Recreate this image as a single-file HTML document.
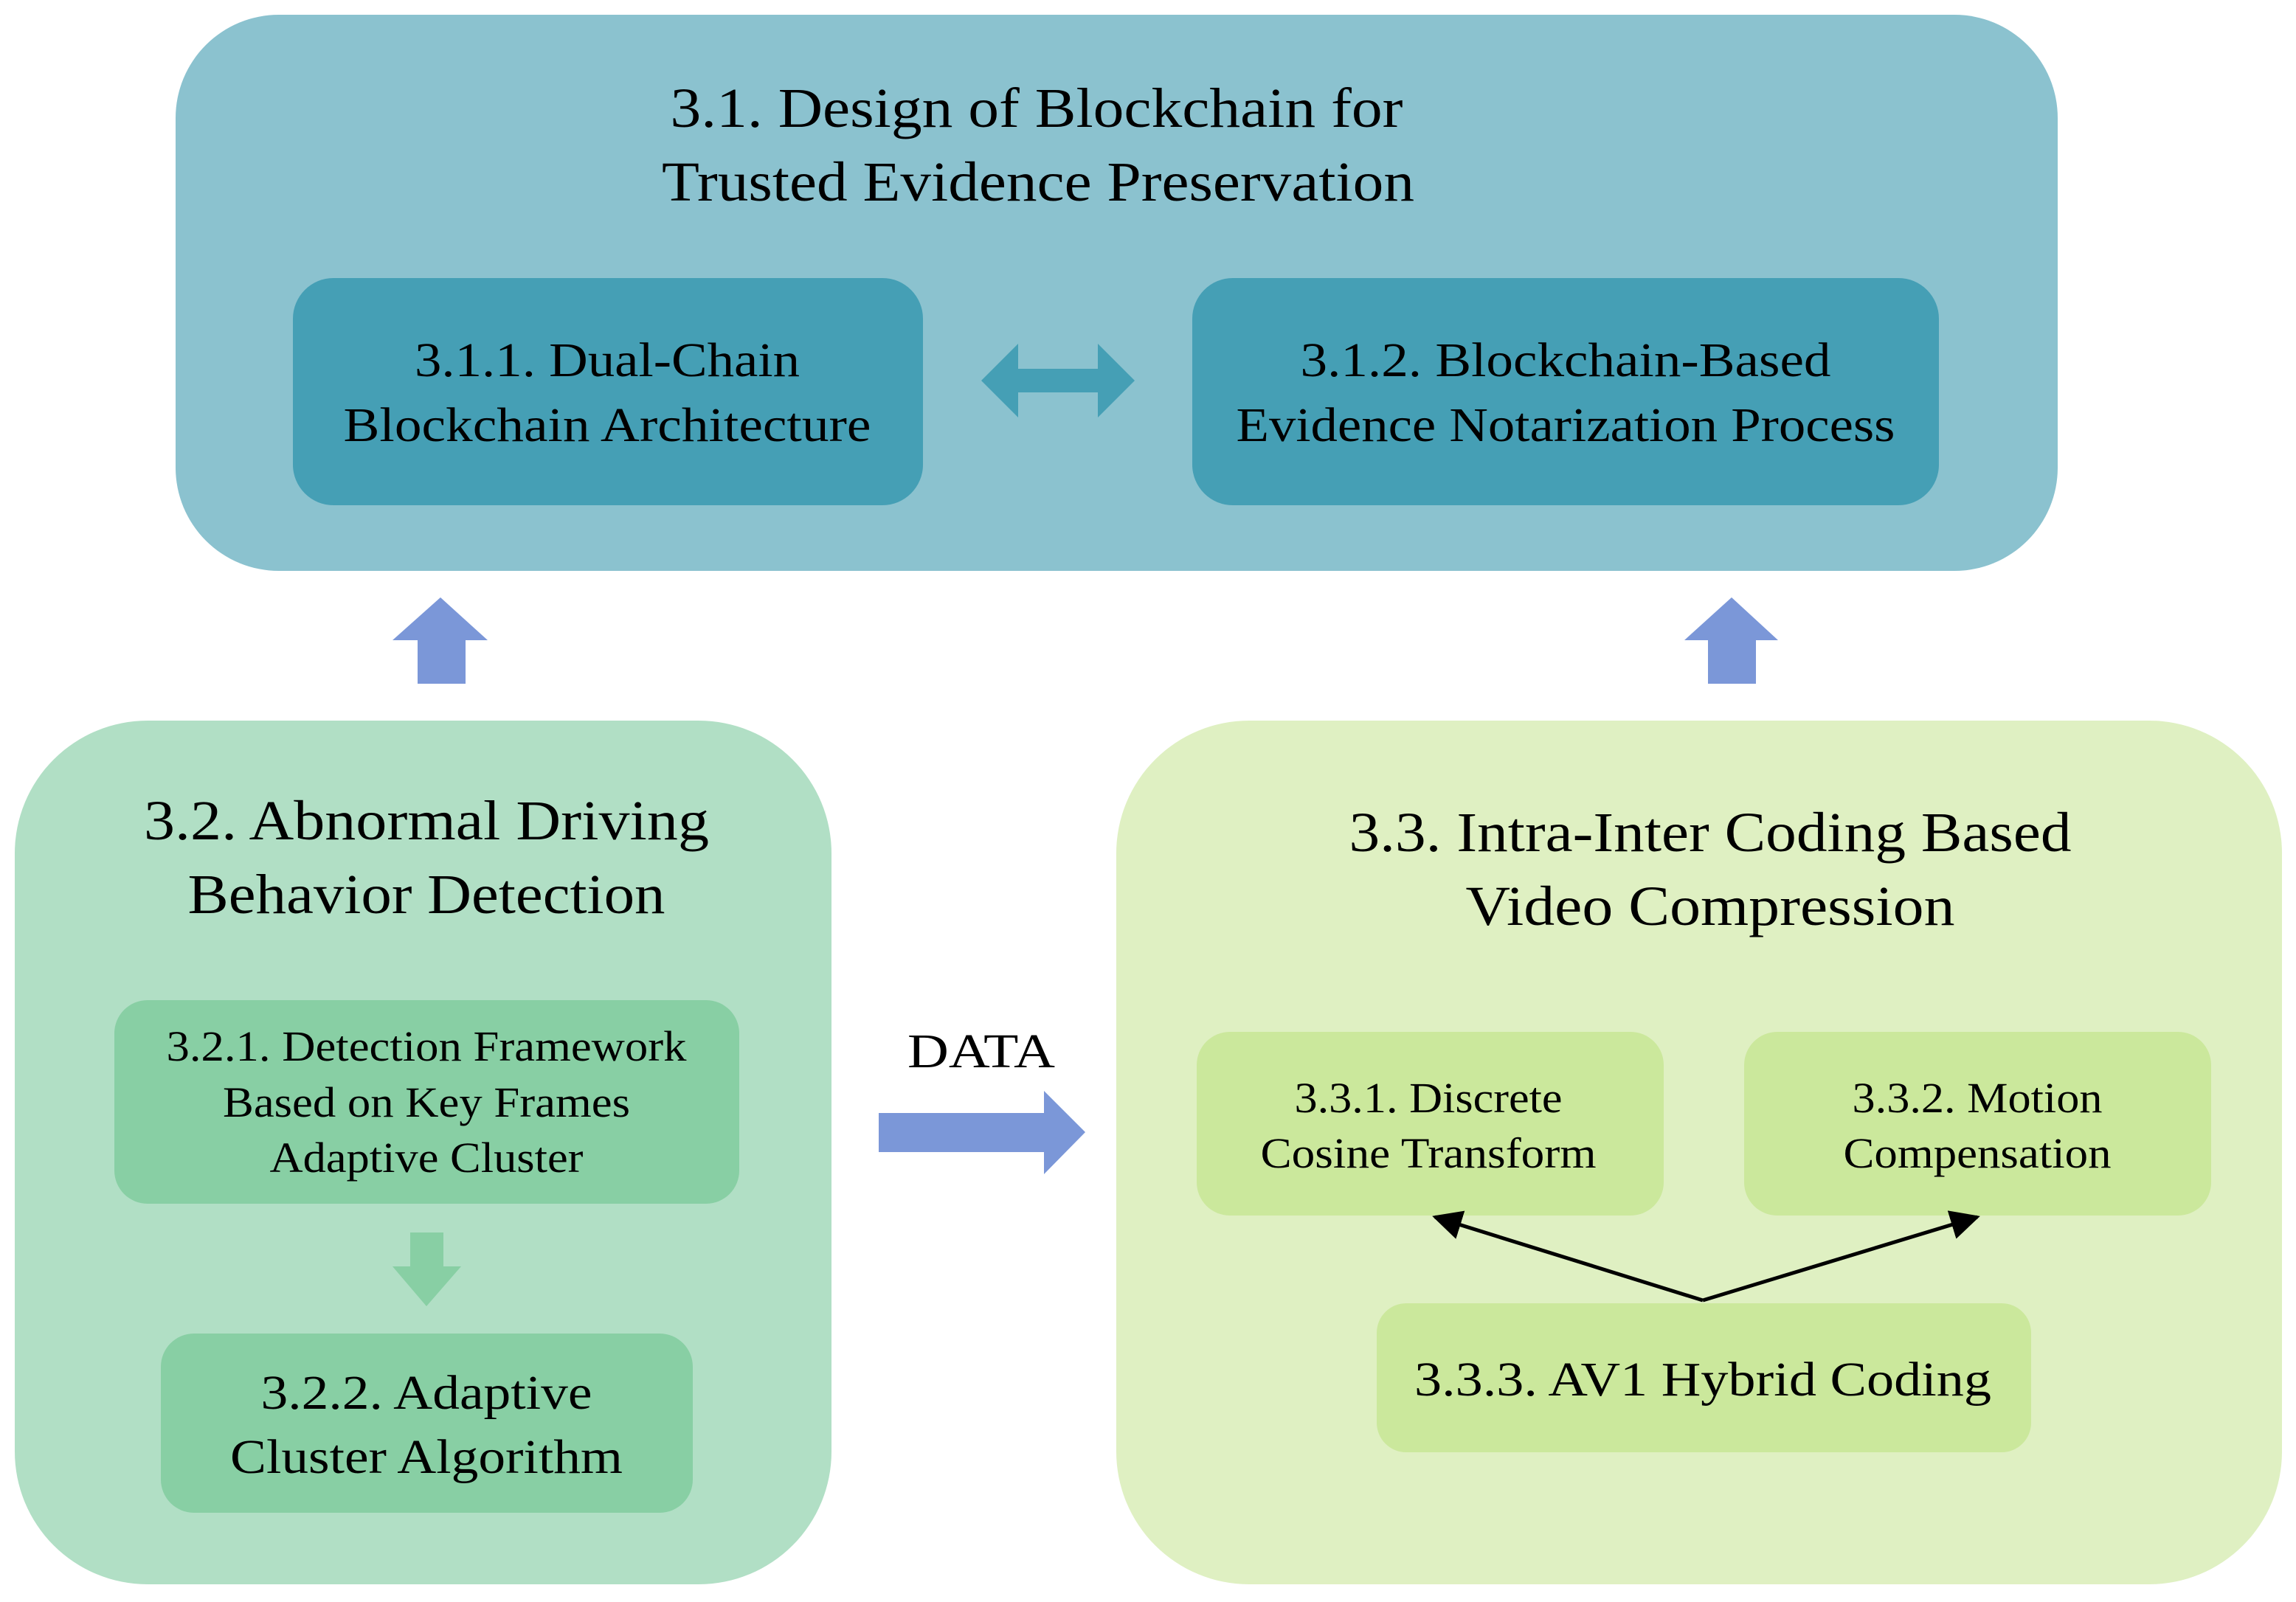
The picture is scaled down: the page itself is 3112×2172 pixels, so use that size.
<!DOCTYPE html>
<html><head><meta charset="utf-8"><style>
html,body{margin:0;padding:0;background:#fff;}
svg{display:block;}
text{font-family:"Liberation Serif","DejaVu Serif",serif;fill:#000;text-anchor:middle;}
</style></head><body>
<svg width="3112" height="2172" viewBox="0 0 3112 2172" xmlns="http://www.w3.org/2000/svg">
<defs>
<marker id="ah" viewBox="0 0 10 10" refX="9" refY="5" markerWidth="8" markerHeight="8" orient="auto"><path d="M0,0 L10,5 L0,10 z" fill="#000"/></marker>
</defs>
<rect x="238" y="20" width="2551" height="754" rx="140" fill="#8bc2cf"/>
<text x="1405" y="172" font-size="76" textLength="993" lengthAdjust="spacingAndGlyphs">3.1. Design of Blockchain for</text>
<text x="1407" y="272" font-size="76" textLength="1020" lengthAdjust="spacingAndGlyphs">Trusted Evidence Preservation</text>
<rect x="397" y="377" width="854" height="308" rx="55" fill="#459fb5"/>
<text x="823" y="510" font-size="66" textLength="522" lengthAdjust="spacingAndGlyphs">3.1.1. Dual-Chain</text>
<text x="823" y="598" font-size="66" textLength="715" lengthAdjust="spacingAndGlyphs">Blockchain Architecture</text>
<rect x="1616" y="377" width="1012" height="308" rx="55" fill="#459fb5"/>
<text x="2122" y="510" font-size="66" textLength="719" lengthAdjust="spacingAndGlyphs">3.1.2. Blockchain-Based</text>
<text x="2122" y="598" font-size="66" textLength="893" lengthAdjust="spacingAndGlyphs">Evidence Notarization Process</text>
<polygon points="1330,516 1380,466 1380,500 1488,500 1488,466 1538,516 1488,566 1488,532 1380,532 1380,566" fill="#459fb5"/>
<polygon points="597,810 661,868 631,868 631,927 566,927 566,868 532,868" fill="#7b97d8"/>
<polygon points="2347,810 2410,868 2380,868 2380,927 2315,927 2315,868 2283,868" fill="#7b97d8"/>
<rect x="20" y="977" width="1107" height="1171" rx="180" fill="#b1dfc5"/>
<text x="578" y="1138" font-size="76" textLength="766" lengthAdjust="spacingAndGlyphs">3.2. Abnormal Driving</text>
<text x="578" y="1238" font-size="76" textLength="647" lengthAdjust="spacingAndGlyphs">Behavior Detection</text>
<rect x="155" y="1356" width="847" height="276" rx="45" fill="#88cfa4"/>
<text x="578" y="1438" font-size="58" textLength="705" lengthAdjust="spacingAndGlyphs">3.2.1. Detection Framework</text>
<text x="578" y="1514" font-size="58" textLength="552" lengthAdjust="spacingAndGlyphs">Based on Key Frames</text>
<text x="578" y="1589" font-size="58" textLength="425" lengthAdjust="spacingAndGlyphs">Adaptive Cluster</text>
<polygon points="556,1671 601,1671 601,1717 625,1717 578,1771 532,1717 556,1717" fill="#88cfa4"/>
<rect x="218" y="1808" width="721" height="243" rx="45" fill="#88cfa4"/>
<text x="578" y="1910" font-size="66" textLength="449" lengthAdjust="spacingAndGlyphs">3.2.2. Adaptive</text>
<text x="578" y="1997" font-size="66" textLength="532" lengthAdjust="spacingAndGlyphs">Cluster Algorithm</text>
<text x="1330" y="1447" font-size="66" textLength="200" lengthAdjust="spacingAndGlyphs">DATA</text>
<polygon points="1191,1509 1415,1509 1415,1479 1471,1535 1415,1592 1415,1562 1191,1562" fill="#7b97d8"/>
<rect x="1513" y="977" width="1580" height="1171" rx="180" fill="#dff0c2"/>
<text x="2318" y="1154" font-size="76" textLength="979" lengthAdjust="spacingAndGlyphs">3.3. Intra-Inter Coding Based</text>
<text x="2318" y="1254" font-size="76" textLength="663" lengthAdjust="spacingAndGlyphs">Video Compression</text>
<rect x="1622" y="1399" width="633" height="249" rx="45" fill="#cbe89c"/>
<text x="1936" y="1508" font-size="58" textLength="363" lengthAdjust="spacingAndGlyphs">3.3.1. Discrete</text>
<text x="1936" y="1583" font-size="58" textLength="455" lengthAdjust="spacingAndGlyphs">Cosine Transform</text>
<rect x="2364" y="1399" width="633" height="249" rx="45" fill="#cbe89c"/>
<text x="2680" y="1508" font-size="58" textLength="339" lengthAdjust="spacingAndGlyphs">3.3.2. Motion</text>
<text x="2680" y="1583" font-size="58" textLength="363" lengthAdjust="spacingAndGlyphs">Compensation</text>
<rect x="1866" y="1767" width="887" height="202" rx="40" fill="#cbe89c"/>
<text x="2308" y="1892" font-size="66" textLength="782" lengthAdjust="spacingAndGlyphs">3.3.3. AV1 Hybrid Coding</text>
<line x1="2308" y1="1763" x2="1945" y2="1650" stroke="#000" stroke-width="5" marker-end="url(#ah)"/>
<line x1="2308" y1="1763" x2="2680" y2="1650" stroke="#000" stroke-width="5" marker-end="url(#ah)"/>
</svg>
</body></html>
